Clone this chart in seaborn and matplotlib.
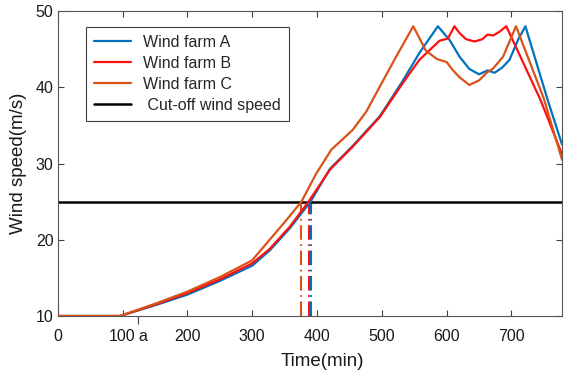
import matplotlib
matplotlib.use("Agg")
import matplotlib.pyplot as plt
import seaborn as sns
import pandas as pd

# Wind speed profiles of three wind farms (time in min, speed in m/s)
time_a = [0, 96, 150, 200, 250, 300, 327, 358, 390, 420, 455, 497, 532, 558,
          586.5, 604.5, 620, 635, 650, 663, 674, 686, 697, 710, 721.5, 756, 778]
speed_a = [10, 10, 11.4, 12.8, 14.6, 16.6, 18.6, 21.5, 25, 29.3, 32.3, 36.2, 40.8, 44.5,
           48, 46.2, 44.0, 42.4, 41.7, 42.2, 41.9, 42.6, 43.6, 46.2, 48, 38.3, 32.5]

time_b = [0, 96, 150, 200, 250, 300, 327, 358, 387, 420, 455, 497, 532, 558,
          589, 602, 612, 620, 630, 643, 655, 663, 672, 682, 692, 745, 778]
speed_b = [10, 10, 11.5, 13.0, 14.8, 16.9, 18.8, 21.7, 25, 29.2, 32.2, 36.1, 40.5, 43.6,
           46.1, 46.4, 48, 47.1, 46.3, 46.0, 46.3, 46.9, 46.8, 47.3, 48, 38.3, 31.2]

time_c = [0, 96, 150, 200, 250, 300, 327, 353, 376, 399, 422, 455, 476, 497, 522,
          548.5, 568, 585, 600, 610, 620, 635, 650, 663, 671, 687, 707, 750, 778]
speed_c = [10, 10, 11.6, 13.2, 15.1, 17.3, 20.0, 22.6, 25, 28.7, 31.8, 34.4, 36.8, 40.1, 44.0,
           48, 44.8, 43.7, 43.3, 42.2, 41.3, 40.3, 40.9, 42.0, 42.4, 44.0, 48, 38.5, 30.5]

farm_names = ["Wind farm A", "Wind farm B", "Wind farm C"]
farm_colors = ["#0072BD", "#FF1010", "#D95319"]
cross_times = [390, 387, 376]   # time each farm reaches the cut-off speed
cutoff_speed = 25
cutoff_label = " Cut-off wind speed"

x_ticks = [0, 100, 200, 300, 400, 500, 600, 700]
x_tick_labels = ["0", "100", "200", "300", "400", "500", "600", "700"]
mark_time = 124
mark_label = "a"
y_ticks = [10, 20, 30, 40, 50]

frames = []
for name, t, v in zip(farm_names, [time_a, time_b, time_c], [speed_a, speed_b, speed_c]):
    frames.append(pd.DataFrame({"time": t, "speed": v, "farm": name}))
df = pd.concat(frames, ignore_index=True)

sns.set_style("white")
plt.rcParams["font.family"] = ["Liberation Sans", "DejaVu Sans"]

fig = plt.figure(figsize=(5.64, 3.73), dpi=100)
ax = fig.add_axes([0.1023, 0.1528, 0.8942, 0.8177])

# dash-dot markers where each farm crosses the cut-off speed
for t, c in zip(cross_times, farm_colors):
    ax.plot([t, t], [10, cutoff_speed], color=c, lw=1.5,
            linestyle=(0, (7, 2.2, 0.8, 2.2)), zorder=1)

for name, c in zip(farm_names, farm_colors):
    sns.lineplot(data=df[df["farm"] == name], x="time", y="speed", color=c,
                 lw=1.6, label=name, estimator=None, sort=False, ax=ax, zorder=3)

ax.axhline(cutoff_speed, color="black", lw=1.8, label=cutoff_label, zorder=2)

ax.set_xlim(0, 778)
ax.set_ylim(10, 50)
ax.set_xticks(x_ticks)
ax.set_xticklabels(x_tick_labels)
ax.set_yticks(y_ticks)
ax.set_xticks([mark_time], minor=True)
ax.set_xticklabels([mark_label], minor=True, ha="left")

ax.tick_params(axis="both", which="major", direction="in", length=4, width=0.8,
               color="#404040", labelsize=11.5, labelcolor="#1a1a1a",
               top=True, right=True, bottom=True, left=True)
ax.tick_params(axis="x", which="major", pad=9)
ax.tick_params(axis="y", which="major", pad=3)
ax.tick_params(axis="x", which="minor", direction="out", length=6, width=0.8,
               color="#404040", labelsize=11.5, labelcolor="#1a1a1a", pad=3,
               top=False, bottom=True)

for s in ax.spines.values():
    s.set_visible(True)
    s.set_color("#555555")
    s.set_linewidth(0.8)

ax.set_xlabel("Time(min)", fontsize=13.5, color="#1a1a1a")
ax.set_ylabel("Wind speed(m/s)", fontsize=13.5, color="#1a1a1a")
ax.xaxis.set_label_coords(0.525, -0.12)
ax.yaxis.set_label_coords(-0.06, 0.5)

handles, labels = ax.get_legend_handles_labels()
order = [labels.index(n) for n in farm_names + [cutoff_label]]
leg = ax.legend([handles[i] for i in order], [labels[i] for i in order],
                loc="upper left", bbox_to_anchor=(0.056, 0.948), fontsize=11.5,
                frameon=True, fancybox=False, edgecolor="#404040", framealpha=1,
                handlelength=2.3, handletextpad=0.8, labelspacing=0.38,
                borderpad=0.5, borderaxespad=0)
leg.get_frame().set_linewidth(0.8)

fig.savefig("out.png", dpi=100, facecolor="white")
